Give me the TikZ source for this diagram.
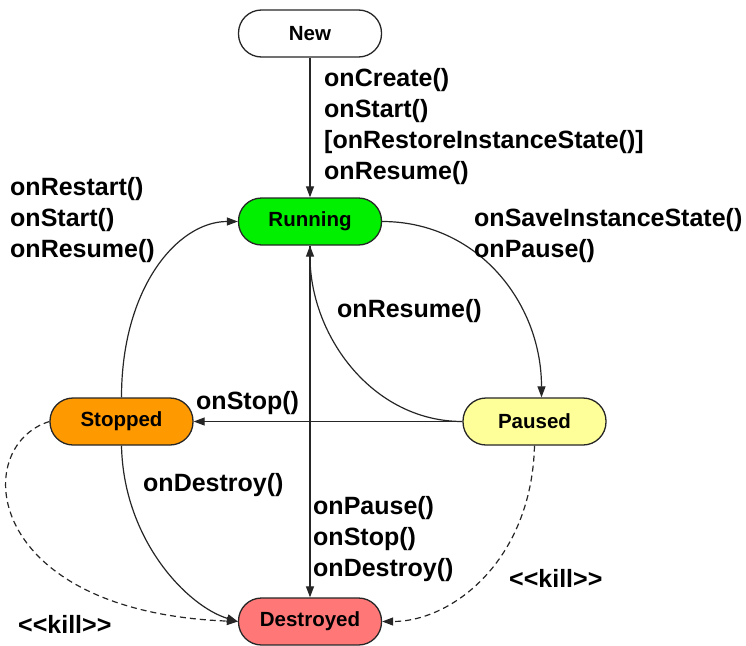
\documentclass[tikz,border=0pt]{standalone}
\usepackage{fontspec}
\setmainfont{Liberation Sans}
\usetikzlibrary{arrows.meta}
\definecolor{runGreen}{HTML}{00F000}
\definecolor{stopOrange}{HTML}{FF9900}
\definecolor{pauseYellow}{HTML}{FFFF99}
\definecolor{destRed}{HTML}{FF7777}
\tikzset{
  state/.style={draw=black!85, line width=1.3pt, rounded corners=23pt,
    minimum width=143pt, minimum height=47pt, inner sep=0pt,
    font=\fontsize{20.5}{24}\selectfont\bfseries},
  lbl/.style={align=left, anchor=north west, inner sep=0pt,
    font=\fontsize{25}{31}\selectfont\bfseries},
  conn/.style={line width=1.2pt, black!85, -{Triangle[length=11pt,width=8pt]}},
  killconn/.style={conn, dashed, dash pattern=on 6pt off 4pt}
}
\begin{document}
\begin{tikzpicture}[x=1pt,y=-1pt]
\useasboundingbox (0,0) rectangle (746,645);
\node[state, fill=white] (new) at (310,33.5) {New};
\node[state, fill=runGreen] (run) at (310,221.5) {Running};
\node[state, fill=stopOrange] (stop) at (121.5,421.5) {Stopped};
\node[state, fill=pauseYellow] (pause) at (534.5,421.5) {Paused};
\node[state, fill=destRed] (dest) at (310,621.5) {Destroyed};

\draw[conn] (new.south) -- (run.north);
\draw[conn] (run.east) .. controls +(95,0) and +(0,-95) .. ([xshift=7pt]pause.north);
\draw[conn] (pause.west) .. controls +(-90,0) and +(0,90) .. (run.south);
\draw[conn] (pause.west) -- (stop.east);
\draw[conn] (stop.north) .. controls +(0,-110) and +(-60,0) .. (run.west);
\draw[conn] (stop.south) .. controls +(2,95) and +(-50,-15) .. (dest.west);
\draw[conn] (run.south) -- (dest.north);
\draw[killconn] (stop.west) .. controls +(-80,25) and +(-255,-10) .. (dest.west);
\draw[killconn] (pause.south) .. controls +(-3,115) and +(70,0) .. (dest.east);

\node[lbl] (l1) at (324,68) {onCreate()\\onStart()\\[0pt][onRestoreInstanceState()]\\onResume()};
\node[lbl] (l2) at (10,177) {onRestart()\\onStart()\\onResume()};
\node[lbl] (l3) at (474,208) {onSaveInstanceState()\\onPause()};
\node[lbl] (l4) at (337,299) {onResume()};
\node[lbl] (l5) at (196,391) {onStop()};
\node[lbl] (l6) at (143,473) {onDestroy()};
\node[lbl] (l7) at (313,496) {onPause()\\onStop()\\onDestroy()};
\node[lbl] (l8) at (509,569) {{<}{<}kill{>}{>}};
\node[lbl] (l9) at (18,615) {{<}{<}kill{>}{>}};
\end{tikzpicture}
\end{document}
